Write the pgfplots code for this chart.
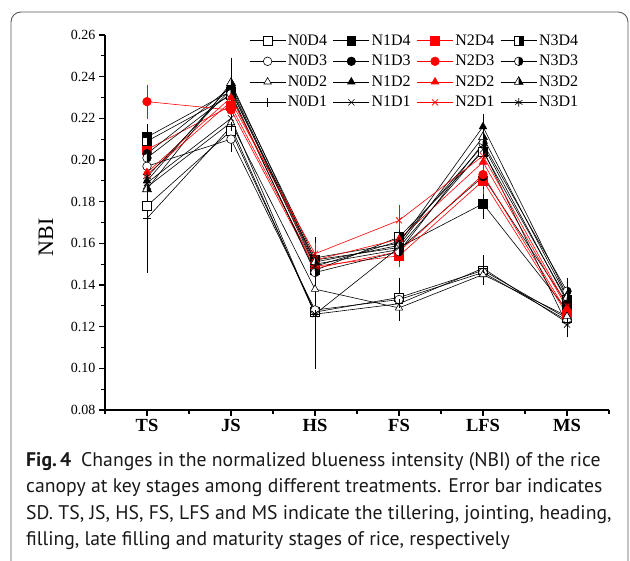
\documentclass[border=0pt]{standalone}
\usepackage{fontspec}
\setmainfont{Liberation Serif}
\newfontfamily\capfont{PT Sans}
\usepackage{pgfplots}
\pgfplotsset{compat=1.18}
\usepackage{pgfplotstable}

% half-filled marks (right half black)
\pgfdeclareplotmark{hsquare}{%
  \pgfpathrectanglecorners{\pgfpoint{-\pgfplotmarksize}{-\pgfplotmarksize}}{\pgfpoint{\pgfplotmarksize}{\pgfplotmarksize}}%
  \pgfsetfillcolor{white}\pgfusepathqfill
  \pgfpathrectanglecorners{\pgfpoint{0pt}{-\pgfplotmarksize}}{\pgfpoint{\pgfplotmarksize}{\pgfplotmarksize}}%
  \pgfsetfillcolor{black}\pgfusepathqfill
  \pgfpathrectanglecorners{\pgfpoint{-\pgfplotmarksize}{-\pgfplotmarksize}}{\pgfpoint{\pgfplotmarksize}{\pgfplotmarksize}}%
  \pgfusepathqstroke}
\pgfdeclareplotmark{hcircle}{%
  \pgfpathcircle{\pgfpointorigin}{\pgfplotmarksize}%
  \pgfsetfillcolor{white}\pgfusepathqfill
  \pgfpathmoveto{\pgfpoint{0pt}{-\pgfplotmarksize}}%
  \pgfpatharc{-90}{90}{\pgfplotmarksize}\pgfpathclose
  \pgfsetfillcolor{black}\pgfusepathqfill
  \pgfpathcircle{\pgfpointorigin}{\pgfplotmarksize}%
  \pgfusepathqstroke}
\pgfdeclareplotmark{htriangle}{%
  \pgfpathmoveto{\pgfpointpolar{90}{1.2\pgfplotmarksize}}%
  \pgfpathlineto{\pgfpointpolar{210}{1.2\pgfplotmarksize}}%
  \pgfpathlineto{\pgfpointpolar{-30}{1.2\pgfplotmarksize}}\pgfpathclose
  \pgfsetfillcolor{white}\pgfusepathqfill
  \pgfpathmoveto{\pgfpointpolar{90}{1.2\pgfplotmarksize}}%
  \pgfpathlineto{\pgfpointpolar{-30}{1.2\pgfplotmarksize}}%
  \pgfpathlineto{\pgfpoint{0pt}{-0.6\pgfplotmarksize}}\pgfpathclose
  \pgfsetfillcolor{black}\pgfusepathqfill
  \pgfpathmoveto{\pgfpointpolar{90}{1.2\pgfplotmarksize}}%
  \pgfpathlineto{\pgfpointpolar{210}{1.2\pgfplotmarksize}}%
  \pgfpathlineto{\pgfpointpolar{-30}{1.2\pgfplotmarksize}}\pgfpathclose
  \pgfusepathqstroke}

% stage: 1 TS, 2 JS, 3 HS, 4 FS, 5 LFS, 6 MS
\pgfplotstableread{
x  D4    eD4   D3    eD3   D2    eD2   D1    eD1
1  0.178 0.030 0.197 0.005 0.187 0.004 0.172 0.008
2  0.214 0.004 0.210 0.004 0.218 0.003 0.216 0.005
3  0.127 0.004 0.128 0.026 0.138 0.004 0.126 0.003
4  0.134 0.003 0.133 0.008 0.129 0.002 0.131 0.003
5  0.147 0.004 0.146 0.003 0.145 0.003 0.148 0.004
6  0.124 0.004 0.123 0.003 0.125 0.004 0.122 0.005
}\nzero
\pgfplotstableread{
x  D4    eD4   D3    eD3   D2    eD2   D1    eD1
1  0.211 0.004 0.203 0.004 0.190 0.005 0.189 0.006
2  0.233 0.004 0.235 0.004 0.236 0.011 0.220 0.004
3  0.152 0.003 0.150 0.003 0.153 0.008 0.126 0.004
4  0.158 0.003 0.157 0.003 0.160 0.003 0.158 0.004
5  0.179 0.005 0.192 0.004 0.216 0.004 0.205 0.004
6  0.128 0.004 0.131 0.004 0.135 0.004 0.121 0.004
}\none
\pgfplotstableread{
x  D4    eD4   D3    eD3   D2    eD2   D1    eD1
1  0.205 0.005 0.228 0.006 0.194 0.004 0.193 0.004
2  0.226 0.004 0.224 0.004 0.230 0.004 0.228 0.004
3  0.149 0.003 0.148 0.003 0.152 0.003 0.155 0.003
4  0.154 0.003 0.156 0.003 0.162 0.003 0.171 0.005
5  0.190 0.004 0.193 0.004 0.199 0.004 0.202 0.004
6  0.126 0.003 0.127 0.003 0.129 0.003 0.130 0.003
}\ntwo
\pgfplotstableread{
x  D4    eD4   D3    eD3   D2    eD2   D1    eD1
1  0.209 0.004 0.201 0.004 0.186 0.004 0.192 0.005
2  0.231 0.004 0.232 0.004 0.237 0.004 0.234 0.004
3  0.147 0.003 0.146 0.003 0.151 0.003 0.149 0.003
4  0.163 0.004 0.156 0.003 0.159 0.003 0.161 0.003
5  0.204 0.004 0.208 0.004 0.211 0.004 0.207 0.004
6  0.133 0.005 0.137 0.004 0.134 0.004 0.132 0.004
}\nthree

\pgfplotsset{
  ser/.style={line width=0.6pt, mark size=4.3pt,
    error bars/y dir=both, error bars/y explicit,
    error bars/error bar style={line width=0.6pt},
    error bars/error mark options={mark size=4.5pt, line width=0.6pt}},
  blk/.style={black, ser},
  rd/.style={red, ser},
}

\begin{document}
\begin{tikzpicture}
\useasboundingbox (0,0) rectangle (630pt,561pt);
\draw[black!65, line width=0.9pt, rounded corners=10pt]
  (11pt,-3pt) -- (11pt,549pt) -- (628pt,549pt) -- (628pt,-3pt);
\begin{axis}[
  at={(105pt,151pt)}, anchor=south west,
  scale only axis, width=504pt, height=375pt,
  xmin=0.5, xmax=6.5, ymin=0.08, ymax=0.26,
  axis x line*=bottom, axis y line*=left,
  axis line style={-, line width=1.3pt},
  xtick={1,2,3,4,5,6}, xticklabels={TS,JS,HS,FS,LFS,MS},
  minor xtick={0.5,1.5,2.5,3.5,4.5,5.5,6.5},
  ytick={0.08,0.10,0.12,0.14,0.16,0.18,0.20,0.22,0.24,0.26},
  minor ytick={0.09,0.11,0.13,0.15,0.17,0.19,0.21,0.23,0.25},
  tick align=outside, major tick length=6pt, minor tick length=4pt,
  tick style={black, line width=1.1pt},
  /pgf/number format/assume math mode=true,
  yticklabel style={/pgf/number format/fixed, /pgf/number format/precision=2,
    /pgf/number format/fixed zerofill, font=\fontsize{14}{14}\selectfont},
  xticklabel style={font=\fontsize{18.5}{18.5}\selectfont\bfseries},
  ylabel={NBI},
  ylabel style={font=\fontsize{22}{22}\selectfont, at={(axis description cs:-0.117,0.461)}, anchor=center},
  legend columns=4,
  legend cell align=left,
  legend style={draw=none, fill=none, font=\fontsize{16}{16}\selectfont,
    at={(axis description cs:0.28,1.012)}, anchor=north west,
    /tikz/every even column/.append style={column sep=4pt}, row sep=4.4pt},
  legend image code/.code={\draw[mark repeat=2, mark phase=2, #1]
    plot coordinates {(0pt,0pt) (18pt,0pt) (36pt,0pt)};},
]
% row D4
\addplot[blk, mark=square*, mark options={solid, fill=white}] table[x=x, y=D4, y error=eD4] {\nzero};
\addlegendentry{N0D4}
\addplot[blk, mark=square*, mark options={solid, fill=black}] table[x=x, y=D4, y error=eD4] {\none};
\addlegendentry{N1D4}
\addplot[rd, mark=square*, mark options={solid, fill=red}] table[x=x, y=D4, y error=eD4] {\ntwo};
\addlegendentry{N2D4}
\addplot[blk, mark=hsquare, mark options={solid}] table[x=x, y=D4, y error=eD4] {\nthree};
\addlegendentry{N3D4}
% row D3
\addplot[blk, mark=*, mark options={solid, fill=white}] table[x=x, y=D3, y error=eD3] {\nzero};
\addlegendentry{N0D3}
\addplot[blk, mark=*, mark options={solid, fill=black}] table[x=x, y=D3, y error=eD3] {\none};
\addlegendentry{N1D3}
\addplot[rd, mark=*, mark options={solid, fill=red}] table[x=x, y=D3, y error=eD3] {\ntwo};
\addlegendentry{N2D3}
\addplot[blk, mark=hcircle, mark options={solid}] table[x=x, y=D3, y error=eD3] {\nthree};
\addlegendentry{N3D3}
% row D2
\addplot[blk, mark=triangle*, mark options={solid, fill=white}] table[x=x, y=D2, y error=eD2] {\nzero};
\addlegendentry{N0D2}
\addplot[blk, mark=triangle*, mark options={solid, fill=black}] table[x=x, y=D2, y error=eD2] {\none};
\addlegendentry{N1D2}
\addplot[rd, mark=triangle*, mark options={solid, fill=red}] table[x=x, y=D2, y error=eD2] {\ntwo};
\addlegendentry{N2D2}
\addplot[blk, mark=htriangle, mark options={solid}] table[x=x, y=D2, y error=eD2] {\nthree};
\addlegendentry{N3D2}
% row D1
\addplot[blk, mark=+, mark options={solid}] table[x=x, y=D1, y error=eD1] {\nzero};
\addlegendentry{N0D1}
\addplot[blk, mark=x, mark options={solid}] table[x=x, y=D1, y error=eD1] {\none};
\addlegendentry{N1D1}
\addplot[rd, mark=x, mark options={solid}] table[x=x, y=D1, y error=eD1] {\ntwo};
\addlegendentry{N2D1}
\addplot[blk, mark=asterisk, mark options={solid}] table[x=x, y=D1, y error=eD1] {\nthree};
\addlegendentry{N3D1}
\end{axis}
% align=left node: base anchor sits on the last line
\node[anchor=base west, align=left, inner sep=0pt, text=black!90,
  font=\capfont\fontsize{19.7}{26.2}\selectfont] at (26pt,15.7pt)
  {\textbf{Fig.\,4}\enspace Changes in the normalized blueness intensity (NBI) of the rice\\
   canopy at key stages among different treatments. Error bar indicates\\
   SD. TS, JS, HS, FS, LFS and MS indicate the tillering, jointing, heading,\\
   filling, late filling and maturity stages of rice, respectively};
\end{tikzpicture}
\end{document}
